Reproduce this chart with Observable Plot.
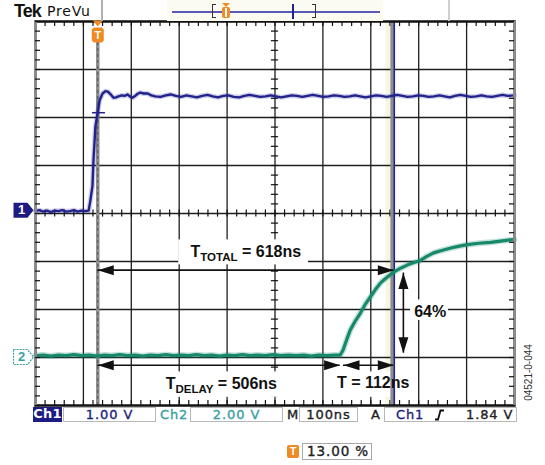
<!DOCTYPE html>
<html><head><meta charset="utf-8">
<script src="https://cdn.jsdelivr.net/npm/d3@7"></script>
<script src="https://cdn.jsdelivr.net/npm/@observablehq/plot@0.6"></script>
<style>
body{margin:0;background:#fff;}
#wrap{position:relative;width:545px;height:465px;overflow:hidden;font-family:"DejaVu Sans",sans-serif;}
#wrap > svg{position:absolute;left:0;top:0;}
.a{position:absolute;box-sizing:border-box;white-space:nowrap;}
.ro{font:13px "DejaVu Sans",sans-serif;letter-spacing:0.9px;line-height:14px;-webkit-text-stroke:0.35px currentColor;}
.box{border:1px solid #b8b8b8;background:#fff;height:15px;top:407px;}
</style></head><body><div id="wrap">
<!-- header -->
<div class="a" style="left:14px;top:1px;font:bold 18px 'Liberation Sans',Arial,sans-serif;letter-spacing:-1px;color:#111;">Tek</div>
<div class="a" style="left:47px;top:3px;font:14px 'DejaVu Sans',sans-serif;letter-spacing:0.8px;color:#111;">PreVu</div>
<div class="a" style="left:101px;top:0;width:1.5px;height:21px;background:#b0b0b0;"></div>
<div class="a" style="left:167px;top:0;width:216px;height:21px;background:#fbfbf1;"></div>
<div class="a" style="left:448px;top:0;width:1.5px;height:21px;background:#cfcfcf;"></div>
<div class="a" style="left:172px;top:11px;width:208px;height:1.5px;background:#5a5ab4;"></div>
<div class="a" style="left:212px;top:4px;width:4px;height:14px;border:1.5px solid #333;border-right:none;"></div>
<div class="a" style="left:312px;top:4px;width:4px;height:14px;border:1.5px solid #333;border-left:none;"></div>
<div class="a" style="left:292px;top:4px;width:1.5px;height:15px;background:#23238c;"></div>
<div class="a" style="left:222px;top:3px;width:8px;height:4px;background:#f08a22;clip-path:polygon(0 0,100% 0,50% 100%);"></div>
<div class="a" style="left:222px;top:7px;width:8px;height:11px;background:#f08a22;border-radius:2px;"></div>
<div class="a" style="left:225px;top:8px;width:2px;height:9px;background:#fff;"></div>
<!-- readouts -->
<div class="a ro" style="left:33px;top:407px;width:29px;height:15px;background:#1c1c82;color:#fff;text-align:center;letter-spacing:0.3px;font-weight:bold;-webkit-text-stroke:0;">Ch1</div>
<div class="a box ro" style="left:63px;width:93px;color:#1c1c82;text-align:center;">1.00 V</div>
<div class="a ro" style="left:160px;top:408px;color:#3a9ea2;">Ch2</div>
<div class="a box ro" style="left:190px;width:93px;color:#3a9ea2;text-align:center;">2.00 V</div>
<div class="a ro" style="left:287px;top:408px;color:#222;">M</div>
<div class="a box ro" style="left:299px;width:59px;color:#222;text-align:center;">100ns</div>
<div class="a ro" style="left:371px;top:408px;color:#222;">A</div>
<div class="a box ro" style="left:384px;width:133px;"></div>
<div class="a ro" style="left:396px;top:408px;color:#1c1c82;">Ch1</div>
<svg class="a" style="left:434px;top:409px;" width="12" height="12"><path d="M1,10.5 L4,10.5 L6.5,1.5 L10,1.5" fill="none" stroke="#111" stroke-width="1.8"/></svg>
<div class="a ro" style="left:466px;top:408px;color:#222;">1.84 V</div>
<div class="a" style="left:287px;top:445px;width:12px;height:13px;background:#f08a22;border-radius:2px;color:#fff;font:bold 11px 'Liberation Sans',Arial;text-align:center;line-height:13px;">T</div>
<div class="a ro" style="left:302px;top:443px;width:70px;height:17px;border:1px solid #a8a8a8;color:#222;padding-left:4px;line-height:15px;font-size:13.5px;">13.00 %</div>
<div class="a" style="left:521px;top:367px;width:14px;font:10px 'Liberation Sans',Arial,sans-serif;color:#333;transform:rotate(-90deg);transform-origin:center;display:flex;justify-content:center;"><span>04521-0-044</span></div>
</div>
<script>
// ---- scales (ns, divisions) ----
const xDomain = [-130, 870];
const yDomain = [-4, 4];
const gridTimes = [-30, 70, 170, 270, 370, 470, 570, 670, 770];
const gridLevels = [-3, -2, -1, 0, 1, 2, 3];
const centerTime = 370;
const centerLevel = 0;

// ---- channel 1 (divisions, 1.00 V/div) ----
const ch1Time = [-130,-122,-114,-106,-98,-90,-82,-74,-66,-58,-50,-42,-34,-26,-19,
  -15,-11,-9,-5,0,4,10,16,21,27,33,38,43,50,56,62,67,72,78,84,89,96,104,112,120,
  131,142,152,163,174,185,196,207,218,229,240,251,262,273,284,295,306,317,328,339,350,361,372,383,394,405,416,427,438,449,460,471,482,493,504,515,526,537,548,559,570,581,592,603,614,625,636,647,658,669,680,691,702,713,724,735,746,757,768,779,790,801,812,823,834,845,856,870];
const ch1Level = [0.05,0.07,0.04,0.06,0.03,0.06,0.05,0.07,0.04,0.05,0.07,0.04,0.06,0.05,0.06,
  0.3,0.58,1.1,1.8,2.12,2.36,2.5,2.55,2.54,2.48,2.41,2.42,2.44,2.46,2.45,2.48,2.44,2.41,2.45,2.5,2.52,2.5,2.5,2.46,2.44,
  2.43,2.46,2.48,2.45,2.43,2.46,2.44,2.42,2.45,2.47,2.44,2.42,2.45,2.46,2.43,2.42,2.45,2.47,2.45,2.43,2.44,2.46,2.44,2.42,2.44,2.46,2.45,2.43,2.45,2.47,2.45,2.43,2.44,2.46,2.45,2.43,2.44,2.46,2.44,2.42,2.44,2.46,2.45,2.43,2.45,2.47,2.45,2.43,2.44,2.46,2.45,2.43,2.44,2.46,2.44,2.42,2.45,2.47,2.45,2.43,2.44,2.46,2.44,2.43,2.45,2.47,2.45,2.46];

// ---- channel 2 (divisions, 2.00 V/div) ----
const ch2Time = [-130,-114,-98,-82,-66,-50,-34,-18,-2,14,30,46,62,78,94,110,126,142,158,174,190,206,222,238,254,270,286,302,318,334,350,366,382,398,414,430,446,462,478,494,506,
  512,520,527,537,548,558,569,580,590,600,610,618,632,647,660,671,686,701,718,737,755,772,796,820,845,870];
const ch2Level = [-2.96,-2.95,-2.97,-2.95,-2.96,-2.94,-2.96,-2.95,-2.97,-2.95,-2.96,-2.94,-2.96,-2.95,-2.97,-2.95,-2.96,-2.94,-2.96,-2.95,-2.96,-2.94,-2.96,-2.95,-2.97,-2.95,-2.96,-2.94,-2.96,-2.95,-2.96,-2.94,-2.96,-2.95,-2.96,-2.95,-2.97,-2.95,-2.96,-2.95,-2.95,
  -2.85,-2.62,-2.43,-2.25,-2.08,-1.9,-1.74,-1.58,-1.45,-1.36,-1.28,-1.22,-1.14,-1.07,-1.02,-0.99,-0.9,-0.82,-0.77,-0.72,-0.68,-0.65,-0.62,-0.6,-0.57,-0.54];

// ---- markers / cursors ----
const triggerTime = 0;
const triggerLevelCh1 = 2.1;
const ch1Ground = 0.07;
const ch2Ground = -2.99;
const cursorTime = 619;

// ---- annotations ----
const labelText  = ["T_TOTAL = 618ns", "T_DELAY = 506ns", "T = 112ns", "64%"];
const labelTime  = [309, 258, 575, 694];
const labelLevel = [-0.79, -3.55, -3.53, -2.04];
const boxT1 = [169, 121, 490, 653];
const boxT2 = [440, 403, 657, 732];
const boxL1 = [-0.55, -3.3, -3.3, -1.8];
const boxL2 = [-1.07, -3.83, -3.83, -2.23];
const hArrowT1 = [0, 0, 513];
const hArrowT2 = [618, 506, 618];
const hArrowLevel = [-1.18, -3.16, -3.16];
const vArrowTime = [638];
const vArrowL1 = [-1.24];
const vArrowL2 = [-2.91];

// ---- build tables ----
const ch1 = ch1Time.map((t, i) => ({t, v: ch1Level[i]}));
const ch2 = ch2Time.map((t, i) => ({t, v: ch2Level[i]}));
const labels = labelText.map((s, i) => ({s, t: labelTime[i], v: labelLevel[i]}));
const boxes = boxT1.map((t1, i) => ({t1, t2: boxT2[i], v1: boxL1[i], v2: boxL2[i]}));
const hArrows = hArrowT1.map((t1, i) => ({t1, t2: hArrowT2[i], v: hArrowLevel[i]}));
const vArrows = vArrowTime.map((t, i) => ({t, v1: vArrowL1[i], v2: vArrowL2[i]}));
const heads = [];
hArrows.forEach(a => { heads.push({t: a.t1, v: a.v, r: -90}); heads.push({t: a.t2, v: a.v, r: 90}); });
vArrows.forEach(a => { heads.push({t: a.t, v: a.v1, r: 0}); heads.push({t: a.t, v: a.v2, r: 180}); });

const minorT = d3.range(-130, 871, 20);
const minorL = d3.range(-4, 4.001, 0.2);

const arrowHead = {draw(c) { c.moveTo(0, 0); c.lineTo(5, 16); c.lineTo(-5, 16); c.closePath(); }};
const chTag = {draw(c) { c.moveTo(-10, -7.5); c.lineTo(4, -7.5); c.lineTo(10, 0); c.lineTo(4, 7.5); c.lineTo(-10, 7.5); c.closePath(); }};
const trigTag = {draw(c) { c.moveTo(-5, -1); c.lineTo(5, -1); c.lineTo(0, 5); c.closePath();
  c.moveTo(-6, 8); c.lineTo(-4, 6); c.lineTo(4, 6); c.lineTo(6, 8); c.lineTo(6, 19); c.lineTo(4, 21); c.lineTo(-4, 21); c.lineTo(-6, 19); c.closePath(); }};

const NAVY = "#22228c", TEAL = "#17896b", ORANGE = "#f08a22";
const EL = 0.104, ET = 10.4, CL = 0.075, CT = 7.5;

const plot = Plot.plot({
  width: 545, height: 465,
  marginLeft: 35, marginRight: 31, marginTop: 21, marginBottom: 60,
  x: {domain: xDomain, axis: null},
  y: {domain: yDomain, axis: null},
  style: {background: "transparent", overflow: "visible"},
  marks: [
    Plot.ruleX([cursorTime - 13], {stroke: "#f6f6e2", strokeWidth: 5}),
    Plot.ruleX(gridTimes, {stroke: "#1e1e1e", strokeWidth: 1.3}),
    Plot.ruleY(gridLevels, {stroke: "#1e1e1e", strokeWidth: 1.3}),
    Plot.ruleX(minorT, {y1: 4, y2: 4 - EL, stroke: "#111", strokeWidth: 1.2}),
    Plot.ruleX(minorT, {y1: -4, y2: -4 + EL, stroke: "#111", strokeWidth: 1.2}),
    Plot.ruleX(minorT, {y1: centerLevel - CL, y2: centerLevel + CL, stroke: "#111", strokeWidth: 1.2}),
    Plot.ruleY(minorL, {x1: centerTime - CT, x2: centerTime + CT, stroke: "#111", strokeWidth: 1.2}),
    Plot.rect(boxes, {x1: "t1", x2: "t2", y1: "v1", y2: "v2", fill: "white"}),
    Plot.ruleX([triggerTime], {y1: -4, y2: 3.56, stroke: "#8d8d8d", strokeWidth: 3.5}),
    Plot.ruleX([triggerTime], {y1: -4, y2: 3.56, stroke: "#555", strokeWidth: 1, strokeDasharray: "3,3"}),
    Plot.ruleX([cursorTime - 4.5], {stroke: "#8d8d8d", strokeWidth: 3.5}),
    Plot.ruleX([cursorTime], {stroke: NAVY, strokeWidth: 1.6}),
    Plot.line(ch2, {x: "t", y: "v", stroke: TEAL, strokeWidth: 6, strokeOpacity: 0.25}),
    Plot.line(ch2, {x: "t", y: "v", stroke: TEAL, strokeWidth: 3.2}),
    Plot.line(ch1, {x: "t", y: "v", stroke: NAVY, strokeWidth: 5, strokeOpacity: 0.22}),
    Plot.line(ch1, {x: "t", y: "v", stroke: NAVY, strokeWidth: 2.4}),
    Plot.ruleY([triggerLevelCh1], {x1: -11, x2: 16, stroke: NAVY, strokeWidth: 1.5}),
    Plot.ruleY(hArrows, {x1: "t1", x2: "t2", y: "v", stroke: "#111", strokeWidth: 1.6}),
    Plot.ruleX(vArrows, {y1: "v1", y2: "v2", x: "t", stroke: "#111", strokeWidth: 1.6}),
    Plot.dot(heads, {x: "t", y: "v", rotate: "r", symbol: arrowHead, fill: "#111", stroke: "none"}),
    Plot.text(labels, {x: "t", y: "v", text: "s", fontSize: 16, fontWeight: "bold", fontFamily: "'Liberation Sans', Arial, sans-serif", fill: "#111"}),
    Plot.frame({stroke: "#111", strokeWidth: 2.5}),
    Plot.ruleX([xDomain[0], xDomain[1]], {stroke: "#8a8a8a", strokeWidth: 3}),
    Plot.ruleY(minorL, {x1: -130, x2: -130 + ET, stroke: "#111", strokeWidth: 1.2}),
    Plot.ruleY(minorL, {x1: 870, x2: 870 - ET, stroke: "#111", strokeWidth: 1.2}),
    Plot.dot([ch1Ground], {x: xDomain[0], y: d => d, dx: -12, symbol: chTag, fill: "#1c1c82", stroke: "none"}),
    Plot.text([ch1Ground], {x: xDomain[0], y: d => d, dx: -14, text: () => "1", fill: "white", fontSize: 13, fontWeight: "bold", fontFamily: "'Liberation Sans', Arial"}),
    Plot.dot([ch2Ground], {x: xDomain[0], y: d => d, dx: -12, symbol: chTag, fill: "white", stroke: "#3a9ea2", strokeWidth: 1.2, strokeDasharray: "2,1"}),
    Plot.text([ch2Ground], {x: xDomain[0], y: d => d, dx: -14, text: () => "2", fill: "#3a9ea2", fontSize: 13, fontWeight: "bold", fontFamily: "'Liberation Sans', Arial"}),
    Plot.dot([triggerTime], {x: d => d, y: yDomain[1], symbol: trigTag, fill: ORANGE, stroke: "none"}),
    Plot.text([triggerTime], {x: d => d, y: yDomain[1], dy: 13.5, text: () => "T", fill: "white", fontSize: 11, fontWeight: "bold", fontFamily: "'Liberation Sans', Arial"})
  ]
});

plot.querySelectorAll("text").forEach(el => {
  const m = el.textContent.match(/^(T)_([A-Z]+)(.*)$/);
  if (!m) return;
  const ns = "http://www.w3.org/2000/svg";
  el.textContent = "";
  const a = document.createElementNS(ns, "tspan"); a.textContent = m[1];
  const b = document.createElementNS(ns, "tspan"); b.textContent = m[2]; b.setAttribute("font-size", "11.5"); b.setAttribute("dy", "4");
  const c = document.createElementNS(ns, "tspan"); c.textContent = m[3]; c.setAttribute("dy", "-4");
  el.append(a, b, c);
});
const wrap = document.getElementById("wrap");
wrap.insertBefore(plot, wrap.firstChild);
</script>
</body></html>
